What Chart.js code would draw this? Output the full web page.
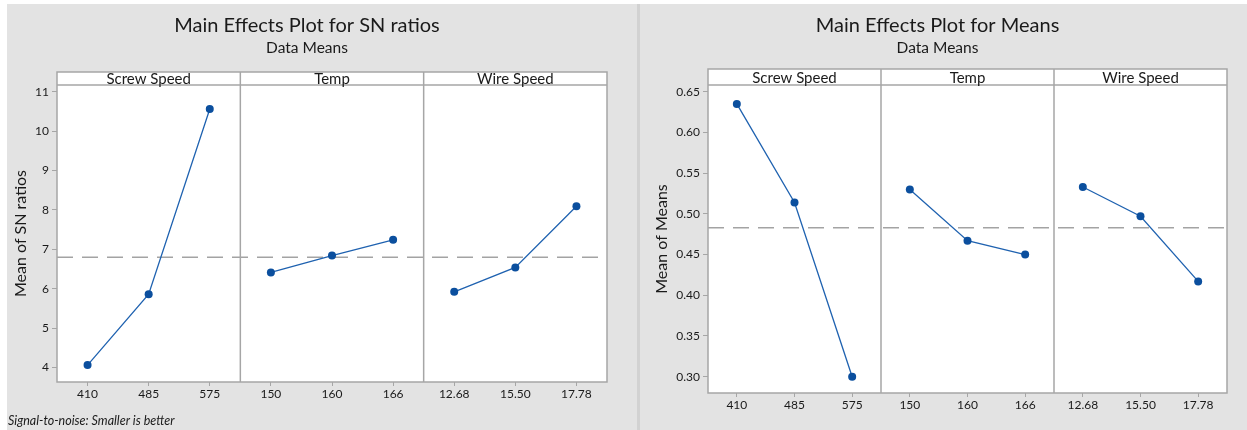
<!DOCTYPE html>
<html>
<head>
<meta charset="utf-8">
<script src="https://cdn.jsdelivr.net/npm/chart.js@4.4.1/dist/chart.umd.min.js"></script>
<style>
  html, body { margin: 0; padding: 0; background: #fff; }
  body { width: 1247px; height: 430px; position: relative; overflow: hidden; }
  .panel { position: absolute; top: 4px; height: 426px; background: #e3e3e3; }
  #leftPanel { left: 7px; width: 630px; }
  #rightPanel { left: 640px; width: 607px; }
  #sep { position: absolute; left: 637px; top: 4px; width: 3px; height: 426px; background: #d2d2d2; }
  canvas { position: absolute; top: 4px; }
  #sn { left: 7px; }
  #means { left: 648px; }
</style>
</head>
<body>
<div class="panel" id="leftPanel"></div>
<div id="sep"></div>
<div class="panel" id="rightPanel"></div>
<canvas id="sn" width="616" height="426"></canvas>
<canvas id="means" width="599" height="426"></canvas>
<script>
const factors = ['Screw Speed', 'Temp', 'Wire Speed'];
const levels = [
    ['410', '485', '575'],
    ['150', '160', '166'],
    ['12.68', '15.50', '17.78']
];
// mean of SN ratios per factor level
const snRatios = [
    [4.06, 5.86, 10.56],
    [6.41, 6.84, 7.24],
    [5.92, 6.54, 8.09]
];
// mean of means per factor level
const means = [
    [0.635, 0.514, 0.300],
    [0.530, 0.467, 0.450],
    [0.533, 0.497, 0.417]
];
const snGrandMean = 6.80;
const meansGrandMean = 0.483;

const FONT = 'Lato, "DejaVu Sans", sans-serif';
const TEXT = '#1a1a1a';
const FRAME = '#a6a6a6';
const LINE = '#1f62b0';
const DOT = '#0b4f9e';

const facetPlugin = {
    id: 'facets',
    beforeDraw(chart, args, opts) {
        const {ctx, chartArea: a} = chart;
        ctx.save();
        ctx.fillStyle = '#fff';
        ctx.fillRect(a.left, a.top - opts.header, a.width, a.height + opts.header);
        ctx.restore();
    },
    afterDraw(chart, args, opts) {
        const {ctx, chartArea: a} = chart;
        const top = a.top - opts.header;
        ctx.save();
        ctx.strokeStyle = FRAME;
        ctx.lineWidth = 1.5;
        ctx.strokeRect(a.left, top, a.width, a.bottom - top);
        ctx.beginPath();
        ctx.moveTo(a.left, a.top);
        ctx.lineTo(a.right, a.top);
        for (let i = 1; i < factors.length; i++) {
            const s = chart.scales['x' + i];
            ctx.moveTo(s.left, top);
            ctx.lineTo(s.left, a.bottom);
        }
        ctx.stroke();

        ctx.fillStyle = TEXT;
        ctx.font = '15px ' + FONT;
        ctx.textAlign = 'center';
        ctx.textBaseline = 'middle';
        factors.forEach((name, i) => {
            const s = chart.scales['x' + i];
            ctx.fillText(name, (s.left + s.right) / 2, top + opts.header / 2 + 1);
        });

        if (opts.note) {
            ctx.font = 'italic 12.5px ' + FONT;
            ctx.textAlign = 'left';
            ctx.fillText(opts.note, 1, chart.height - 9);
        }
        ctx.restore();
    }
};

function makeChart(id, cfg) {
    const datasets = cfg.values.map((row, i) => ({
        data: row,
        xAxisID: 'x' + i,
        yAxisID: 'y',
        borderColor: LINE,
        borderWidth: 1.3,
        pointRadius: 4,
        pointBackgroundColor: DOT,
        pointBorderColor: DOT,
        pointBorderWidth: 0,
        tension: 0,
        order: 0
    }));
    datasets.push({
        data: [{x: 0, y: cfg.grand}, {x: 1, y: cfg.grand}],
        xAxisID: 'xm',
        yAxisID: 'y',
        borderColor: '#a3a3a3',
        borderWidth: 1.5,
        borderDash: [16, 9],
        pointRadius: 0,
        order: 5
    });

    const scales = {
        y: {
            min: cfg.yMin,
            max: cfg.yMax,
            afterFit: s => { s.width = cfg.yWidth; },
            border: { display: false },
            grid: { drawOnChartArea: false, tickLength: 5, color: FRAME },
            ticks: {
                stepSize: cfg.step,
                includeBounds: false,
                padding: 3,
                color: TEXT,
                font: { family: FONT, size: 12 },
                callback: v => v.toFixed(cfg.decimals)
            },
            title: {
                display: true,
                text: cfg.yTitle,
                color: TEXT,
                font: { family: FONT, size: 16 },
                padding: { top: 4.4, bottom: 0 }
            }
        },
        xm: { type: 'linear', min: 0, max: 1, display: false }
    };
    levels.forEach((labels, i) => {
        scales['x' + i] = {
            type: 'category',
            labels: labels,
            stack: 'facets',
            stackWeight: 1,
            offset: true,
            afterFit: s => { s.height = cfg.xHeight; },
            border: { display: false },
            grid: { offset: false, drawOnChartArea: false, tickLength: 4, color: FRAME },
            ticks: {
                padding: 1,
                autoSkip: false,
                maxRotation: 0,
                minRotation: 0,
                color: TEXT,
                font: { family: FONT, size: 12 }
            }
        };
    });

    return new Chart(document.getElementById(id), {
        type: 'line',
        data: { datasets },
        plugins: [facetPlugin],
        options: {
            responsive: false,
            animation: false,
            events: [],
            layout: { padding: cfg.padding },
            scales,
            plugins: {
                legend: { display: false },
                tooltip: { enabled: false },
                title: {
                    display: true,
                    text: cfg.title,
                    color: TEXT,
                    font: { family: FONT, size: 20, weight: 'normal' },
                    padding: { top: 10, bottom: 0 }
                },
                subtitle: {
                    display: true,
                    text: 'Data Means',
                    color: TEXT,
                    font: { family: FONT, size: 15.5 },
                    padding: { top: 1.1, bottom: 27.3 }
                },
                facets: { header: cfg.header, note: cfg.note }
            }
        }
    });
}

makeChart('sn', {
    title: 'Main Effects Plot for SN ratios',
    yTitle: 'Mean of SN ratios',
    values: snRatios,
    grand: snGrandMean,
    yMin: 3.63, yMax: 11.17, step: 1, decimals: 0,
    yWidth: 50, xHeight: 30, header: 13,
    padding: { left: 0, right: 16, top: 0, bottom: 18 },
    note: 'Signal-to-noise: Smaller is better'
});

makeChart('means', {
    title: 'Main Effects Plot for Means',
    yTitle: 'Mean of Means',
    values: means,
    grand: meansGrandMean,
    yMin: 0.28, yMax: 0.6582, step: 0.05, decimals: 2,
    yWidth: 60, xHeight: 26, header: 16,
    padding: { left: 0, right: 20, top: 0, bottom: 11 },
    note: ''
});
</script>
</body>
</html>
